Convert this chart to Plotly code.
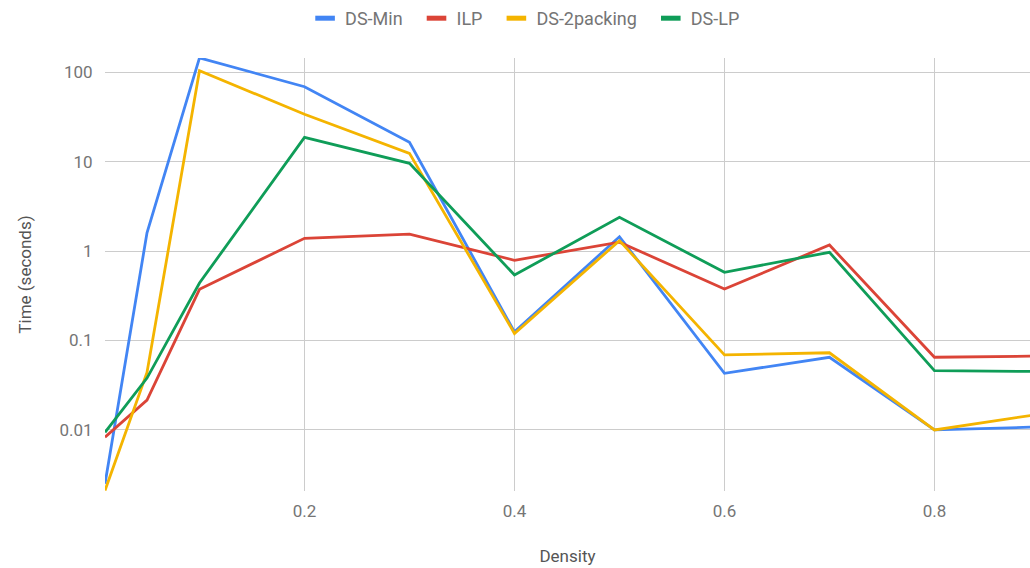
import plotly.graph_objects as go

density = [0.01, 0.05, 0.1, 0.2, 0.3, 0.4, 0.5, 0.6, 0.7, 0.8, 0.9]

ds_min = [0.0025, 1.6, 145, 69, 16.5, 0.125, 1.45, 0.043, 0.065, 0.010, 0.0108]
ilp = [0.0083, 0.0216, 0.374, 1.39, 1.55, 0.79, 1.26, 0.377, 1.17, 0.065, 0.067]
ds_2packing = [0.0021, 0.044, 104, 34, 12.4, 0.12, 1.31, 0.069, 0.073, 0.010, 0.015]
ds_lp = [0.0094, 0.038, 0.44, 18.7, 9.6, 0.54, 2.39, 0.58, 0.97, 0.046, 0.045]

series_names = ["DS-Min", "ILP", "DS-2packing", "DS-LP"]
series_values = [ds_min, ilp, ds_2packing, ds_lp]
series_colors = ["#4285F4", "#DB4437", "#F4B400", "#0F9D58"]

y_tickvals = [0.01, 0.1, 1, 10, 100]
y_ticktext = ["0.01", "0.1", "1", "10", "100"]
x_tickvals = [0.2, 0.4, 0.6, 0.8]
x_ticktext = ["0.2", "0.4", "0.6", "0.8"]

fig = go.Figure()

for name, vals, color in zip(series_names, series_values, series_colors):
    fig.add_trace(go.Scatter(
        x=density, y=vals, mode="lines", name=name,
        line=dict(color=color, width=2.8),
        showlegend=False, hoverinfo="x+y+name",
    ))

# legend-only entries drawn as short thick bars; trailing spaces widen the gap between entries
for name, color in zip(series_names, series_colors):
    fig.add_trace(go.Scatter(
        x=[None], y=[None], mode="markers", name=name + "\u00a0\u00a0",
        marker=dict(symbol="line-ew", size=14, color=color,
                    line=dict(color=color, width=6)),
        showlegend=True,
    ))

font_family = "Roboto, Arial, sans-serif"

fig.update_layout(
    width=1030, height=568,
    margin=dict(l=105, r=0, t=58, b=77),
    paper_bgcolor="white", plot_bgcolor="white",
    font=dict(family=font_family, size=17, color="#757575"),
    showlegend=True,
    legend=dict(
        orientation="h", x=0.459, xanchor="center", y=1.134, yanchor="top",
        font=dict(size=18, color="#757575"), itemwidth=30,
        itemsizing="trace", tracegroupgap=0, itemclick=False,
    ),
    xaxis=dict(
        range=[0.01, 0.891], tickvals=x_tickvals, ticktext=x_ticktext,
        showgrid=True, gridcolor="#cccccc", gridwidth=1,
        zeroline=False, showline=False, automargin=False,
        ticks="outside", ticklen=5, tickcolor="rgba(0,0,0,0)",
        tickfont=dict(size=17, color="#757575"),
        title=dict(text="Density", font=dict(size=17, color="#555555"), standoff=29),
    ),
    yaxis=dict(
        type="log", range=[-2.683, 2.16],
        tickvals=y_tickvals, ticktext=y_ticktext,
        showgrid=True, gridcolor="#cccccc", gridwidth=1,
        zeroline=False, showline=False, automargin=False,
        ticks="outside", ticklen=8, tickcolor="rgba(0,0,0,0)",
        tickfont=dict(size=17, color="#757575"),
        title=dict(text="Time (seconds)", font=dict(size=17, color="#555555"), standoff=23),
    ),
)

fig.write_html("out.html")
